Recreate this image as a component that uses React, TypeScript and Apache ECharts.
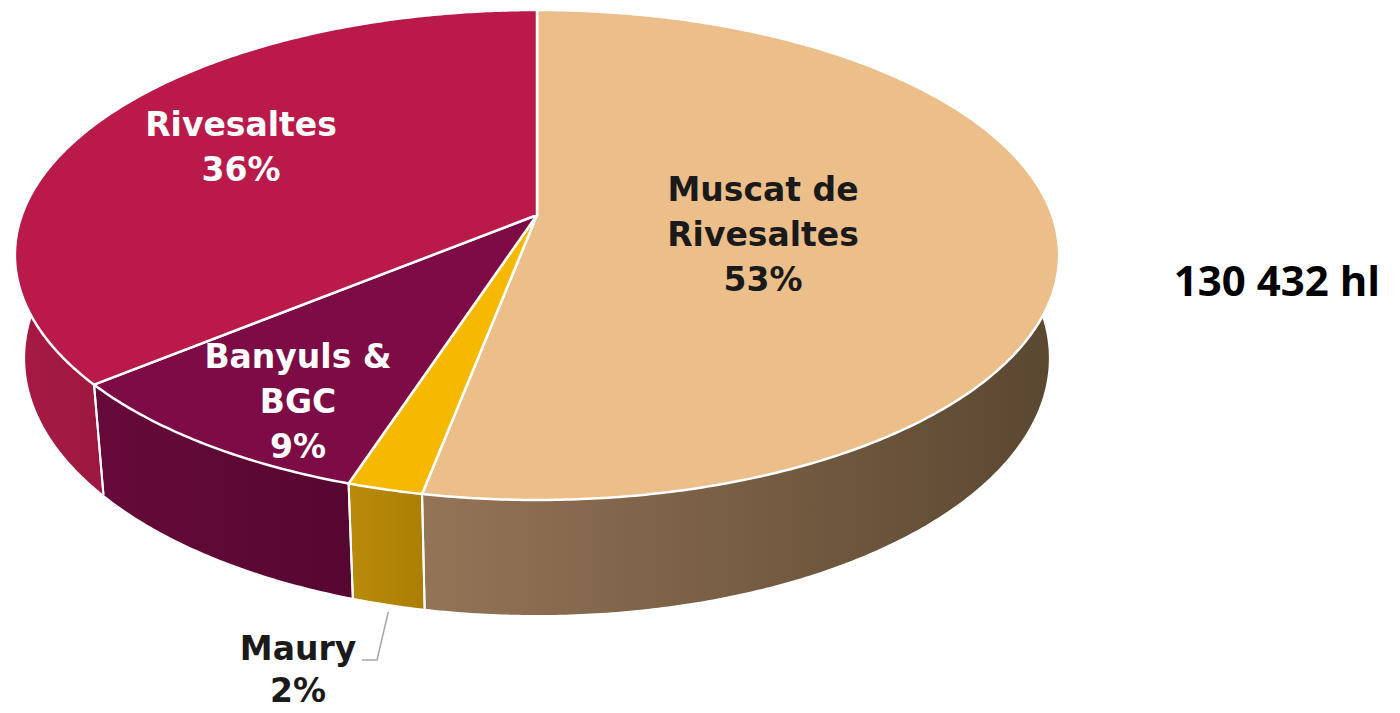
import React, { useEffect, useRef } from "react";
import * as echarts from "echarts";

// ---- data ----
const categories = ["Muscat de Rivesaltes", "Maury", "Banyuls & BGC", "Rivesaltes"];
const shares = [53, 2, 9, 36];
const labelNames = [["Muscat de", "Rivesaltes"], ["Maury"], ["Banyuls &", "BGC"], ["Rivesaltes"]];
const totalVolume = "130 432 hl";

// ---- styles ----
const topColors = ["#ECBE8A", "#F6B900", "#7D0C46", "#BA1A4A"];
const wallColors = [
  ["#947457", "#5A4731"],
  ["#BA8B0A", "#AB7E05"],
  ["#660A3A", "#560731"],
  ["#A81A42", "#9C1840"],
];
const labelColors = ["#1a1a1a", "#1a1a1a", "#ffffff", "#ffffff"];
const labelPos = [
  [763, 234],
  [298, 669],
  [298, 401],
  [241, 147],
];
const labelLineHeights = [45, 42, 45, 45];

// perspective projection of a tilted disk
const P = { cx: 537, cy: 215, f: 2797, D: 5.43, ca: 0.886, sa: 0.463, h: 0.228 };
function proj(theta: number, down: boolean): number[] {
  const X = Math.sin(theta);
  const Z = Math.cos(theta);
  const hh = down ? P.h : 0;
  const camY = Z * P.sa - hh * P.ca;
  const depth = P.D + Z * P.ca + hh * P.sa;
  return [P.cx + (P.f * X) / depth, P.cy - (P.f * camY) / depth];
}

const total = shares.reduce((a, b) => a + b, 0);
const starts: number[] = [];
{
  let acc = 0;
  for (const v of shares) {
    starts.push((acc / total) * Math.PI * 2);
    acc += v;
  }
}
const DEG = Math.PI / 180;

function arcPoints(a0: number, a1: number, down: boolean): number[][] {
  const n = Math.max(2, Math.ceil(Math.abs(a1 - a0) / (0.5 * DEG)));
  const pts: number[][] = [];
  for (let k = 0; k <= n; k++) pts.push(proj(a0 + ((a1 - a0) * k) / n, down));
  return pts;
}

export default function App() {
  const ref = useRef<HTMLDivElement>(null);
  useEffect(() => {
    document.body.style.margin = "0";
    if (!ref.current) return;
    const chart = echarts.init(ref.current, undefined, { renderer: "svg" });

    const wallSeries = {
      type: "custom",
      coordinateSystem: "none",
      z: 1,
      silent: true,
      data: shares.map((v, i) => ({ name: categories[i], value: [v] })),
      renderItem: (params: any, api: any) => {
        const i = params.dataIndex;
        const a0 = starts[i];
        const a1 = a0 + (api.value(0) / total) * Math.PI * 2;
        const vis0 = 75 * DEG;
        const vis1 = 285 * DEG;
        const b0 = Math.max(a0, vis0);
        const b1 = Math.min(a1, vis1);
        const children: any[] = [];
        if (b1 > b0) {
          const pts = arcPoints(b0, b1, false).concat(arcPoints(b1, b0, true));
          children.push({
            type: "polygon",
            shape: { points: pts },
            style: {
              fill: new echarts.graphic.LinearGradient(0, 0, 1, 0, [
                { offset: 0, color: wallColors[i][0] },
                { offset: 1, color: wallColors[i][1] },
              ]),
            },
          });
          [a0, a1].forEach((a) => {
            if (a > 95 * DEG && a < 265 * DEG) {
              const p = proj(a, false);
              const q = proj(a, true);
              children.push({
                type: "line",
                shape: { x1: p[0], y1: p[1], x2: q[0], y2: q[1] },
                style: { stroke: "#ffffff", lineWidth: 2 },
                z2: 5,
              });
            }
          });
        }
        return { type: "group", children };
      },
    };

    const topSeries = {
      type: "custom",
      coordinateSystem: "none",
      z: 2,
      silent: true,
      data: shares.map((v, i) => ({ name: categories[i], value: [v] })),
      renderItem: (params: any, api: any) => {
        const i = params.dataIndex;
        const a0 = starts[i];
        const a1 = a0 + (api.value(0) / total) * Math.PI * 2;
        const pts = [[P.cx, P.cy]].concat(arcPoints(a0, a1, false));
        return {
          type: "polygon",
          shape: { points: pts },
          style: { fill: topColors[i], stroke: "#ffffff", lineWidth: 2.5, lineJoin: "round" },
        };
      },
    };

    const fontFamily = "'DejaVu Sans', sans-serif";
    const labels = shares.map((v, i) => ({
      type: "text",
      x: labelPos[i][0],
      y: labelPos[i][1],
      z: 10,
      style: {
        text: labelNames[i].concat([v + "%"]).join("\n"),
        fill: labelColors[i],
        fontSize: 33,
        fontWeight: "bold",
        fontFamily,
        lineHeight: labelLineHeights[i],
        textAlign: "center",
        textVerticalAlign: "middle",
        shadowColor: "rgba(0,0,0,0.35)",
        shadowBlur: 4,
        shadowOffsetX: 1,
        shadowOffsetY: 1,
      },
    }));

    // leader line for the Maury slice, anchored below its wall mid-point
    const mauryMid = starts[1] + (shares[1] / total) * Math.PI;
    const anchor = proj(mauryMid, true);
    const leader = {
      type: "polyline",
      z: 9,
      shape: {
        points: [
          [362, 660],
          [377, 660],
          [anchor[0], anchor[1] + 8],
        ],
      },
      style: { stroke: "#A6A6A6", lineWidth: 1.5, fill: null },
    };

    const totalText = {
      type: "text",
      x: 1277,
      y: 279,
      z: 10,
      style: {
        text: totalVolume,
        fill: "#000000",
        fontSize: 42,
        fontWeight: "bold",
        fontFamily: "'Open Sans', sans-serif",
        textAlign: "center",
        textVerticalAlign: "middle",
      },
    };

    chart.setOption({
      animation: false,
      backgroundColor: "#ffffff",
      series: [wallSeries, topSeries],
      graphic: [...labels, leader, totalText],
    } as any);

    return () => chart.dispose();
  }, []);

  return <div ref={ref} style={{ width: "1400px", height: "713px" }} />;
}
